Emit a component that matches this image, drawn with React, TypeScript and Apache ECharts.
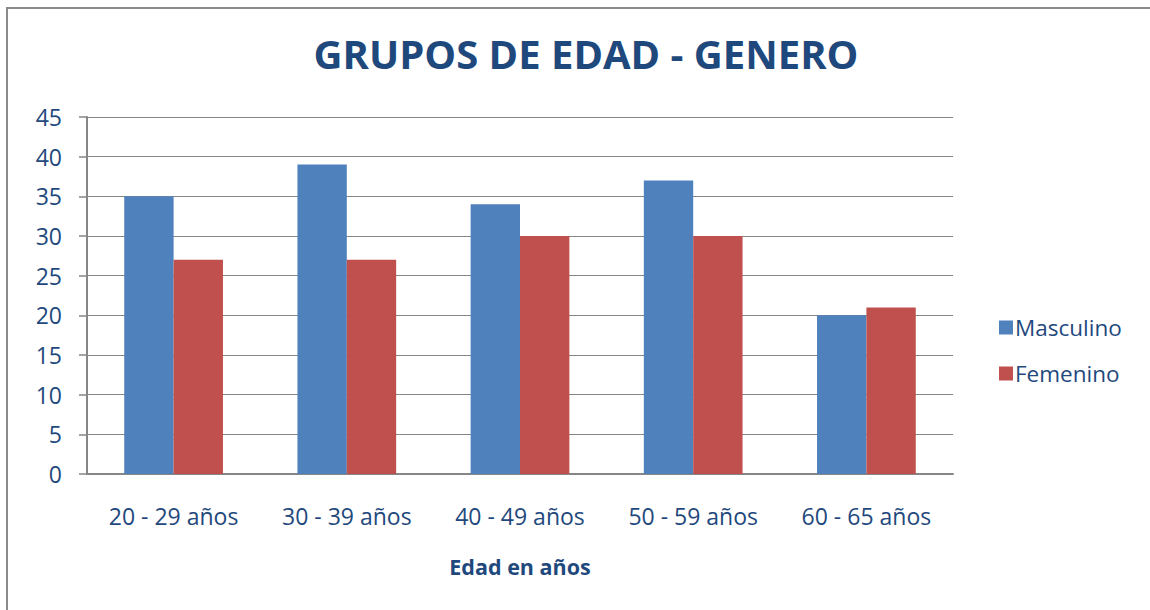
import React, { useEffect, useRef } from "react";
import * as echarts from "echarts";

const categories = ["20 - 29 años", "30 - 39 años", "40 - 49 años", "50 - 59 años", "60 - 65 años"];
const masculino = [35, 39, 34, 37, 20];
const femenino = [27, 27, 30, 30, 21];
const titleText = "GRUPOS DE EDAD - GENERO";
const xAxisName = "Edad en años";

const FONT = "'Open Sans', 'Liberation Sans', sans-serif";
const TEXT = "#1F497D";
const AXIS = "#868686";

export default function App() {
  const ref = useRef<HTMLDivElement>(null);
  useEffect(() => {
    const chart = echarts.init(ref.current!, null, { renderer: "svg" });
    chart.setOption({
      animation: false,
      backgroundColor: "#fff",
      title: {
        text: titleText,
        left: 581,
        textAlign: "center",
        top: 28,
        textStyle: { fontFamily: FONT, fontSize: 40, fontWeight: "bold", color: TEXT },
      },
      legend: {
        orient: "vertical",
        left: 994,
        top: 311,
        itemWidth: 14,
        itemHeight: 14,
        itemGap: 23,
        icon: "rect",
        textStyle: { fontFamily: FONT, fontSize: 22.5, color: TEXT, padding: [0, 0, 0, -3] },
      },
      grid: { left: 87, top: 117, right: 197, bottom: 136 },
      xAxis: {
        type: "category",
        data: categories,
        name: xAxisName,
        nameLocation: "middle",
        nameGap: 81,
        nameTextStyle: { fontFamily: FONT, fontSize: 21.5, fontWeight: "bold", color: TEXT },
        axisLine: { lineStyle: { color: AXIS, width: 2 } },
        axisTick: { show: false },
        axisLabel: { fontFamily: FONT, fontSize: 23, color: TEXT, margin: 30 },
      },
      yAxis: {
        type: "value",
        min: 0,
        max: 45,
        interval: 5,
        axisLine: { show: true, lineStyle: { color: AXIS, width: 2 } },
        axisTick: { show: true, length: 8, lineStyle: { color: AXIS, width: 1.5 } },
        axisLabel: { fontFamily: FONT, fontSize: 23, color: TEXT, margin: 25 },
        splitLine: { lineStyle: { color: AXIS, width: 1.2 } },
      },
      graphic: [
        {
          type: "rect",
          shape: { x: 7, y: 8, width: 1200, height: 700 },
          style: { fill: "none", stroke: "#8a8a8a", lineWidth: 2 },
          silent: true,
        },
      ],
      series: [
        {
          name: "Masculino",
          type: "bar",
          data: masculino,
          itemStyle: { color: "#4F81BD" },
          barGap: "0%",
          barCategoryGap: "43%",
        },
        {
          name: "Femenino",
          type: "bar",
          data: femenino,
          itemStyle: { color: "#C0504D" },
        },
      ],
    });
    return () => chart.dispose();
  }, []);
  return (
    <div
      ref={ref}
      style={{ position: "fixed", left: 0, top: 0, width: 1150, height: 610 }}
    />
  );
}
